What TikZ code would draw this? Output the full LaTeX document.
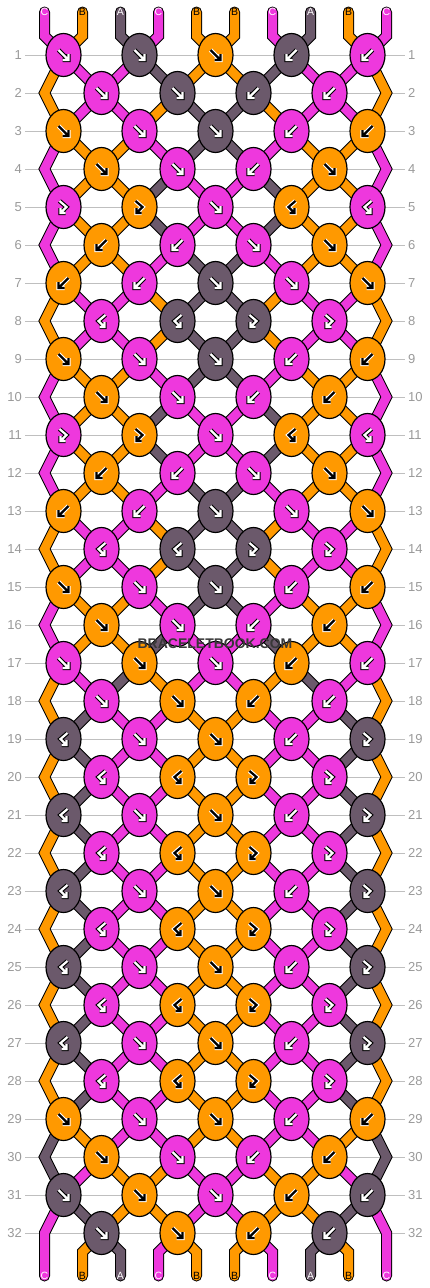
\documentclass[tikz,border=0pt]{standalone}
\usepackage{fontspec}
\setmainfont{Liberation Sans}
\usetikzlibrary{shapes.geometric}

\definecolor{threadA}{RGB}{107,89,107}
\definecolor{threadB}{RGB}{255,153,0}
\definecolor{threadC}{RGB}{238,56,221}
\colorlet{inkA}{white}\colorlet{inkB}{black}\colorlet{inkC}{white}
\colorlet{haloA}{black}\colorlet{haloB}{white}\colorlet{haloC}{black}

\pgfdeclarelayer{grid}
\pgfdeclarelayer{strands}
\pgfsetlayers{grid,strands,main}

\tikzset{
  knot/.style={ellipse, draw=black, line width=1.2pt, minimum width=35pt, minimum height=43pt, inner sep=0pt},
  thread/.style={draw=black, line width=1pt, double=#1, double distance=9pt, line join=miter},
  glyph/.style={draw=ink#1, line width=2.2pt, line join=miter, preaction={draw=halo#1, line width=4.4pt}},
  rowline/.style={draw=black!25, line width=1pt},
  rownum/.style={text=black!40, font=\fontsize{13}{13}\selectfont, inner sep=3pt},
  endlabel/.style={font=\fontsize{10.5}{10.5}\selectfont, inner sep=0pt},
}

% knot arrows, drawn round the knot centre
\newcommand{\glyphfw}[1]{\draw[glyph=#1] (-5,-5) -- (5,5) (5,-1) -- (5,5) -- (-1,5);}
\newcommand{\glyphbw}[1]{\draw[glyph=#1] (5,-5) -- (-5,5) (-5,-1) -- (-5,5) -- (1,5);}
\newcommand{\glyphfb}[1]{\draw[glyph=#1] (-4,-6) -- (3,0) -- (-3,6) (-3,1) -- (-3,6) -- (2,6);}
\newcommand{\glyphbf}[1]{\draw[glyph=#1] (4,-6) -- (-3,0) -- (3,6) (3,1) -- (3,6) -- (-2,6);}

\begin{document}
\begin{tikzpicture}[x=1pt, y=-1pt]
	\useasboundingbox (0,0) rectangle (430,1288);
	
	%%%%% rows %%%%%
	\foreach \r in {1,...,32} {
		\node[rownum, anchor=east] (numL\r) at (25,{55+38*(\r-1)}) {\r};
		\node[rownum, anchor=west] (numR\r) at (405,{55+38*(\r-1)}) {\r};
		\begin{pgfonlayer}{grid}
			\draw[rowline] (numL\r) -- (numR\r);
		\end{pgfonlayer}
	}
	
	%%%%% thread ends and bends %%%%%
	\foreach \p in {1,...,10} {
		\coordinate (top\p) at ({44.5+38*(\p-1)},12);
		\coordinate (topbend\p) at ({44.5+38*(\p-1)},36);
		\coordinate (botbend\p) at ({44.5+38*(\p-1)},1252);
		\coordinate (bot\p) at ({44.5+38*(\p-1)},1276);
	}
	\foreach \r in {2,4,...,32} {
		\coordinate (side\r-1) at (44.5,{55+38*(\r-1)});
		\coordinate (side\r-10) at (386.5,{55+38*(\r-1)});
	}
	
	%%%%% knots %%%%%
	\foreach \r/\row in {
		1/{C/fw,A/fw,B/fw,A/bw,C/bw}, 2/{C/fw,A/fw,A/bw,C/bw},
		3/{B/fw,C/fw,A/fw,C/bw,B/bw}, 4/{B/fw,C/fw,C/bw,B/fw},
		5/{C/fb,B/fb,C/fw,B/bf,C/bf}, 6/{B/bw,C/bw,C/fw,B/fw},
		7/{B/bw,C/bw,A/fw,C/fw,B/fw}, 8/{C/bf,A/bf,A/fb,C/fb},
		9/{B/fw,C/fw,A/fw,C/bw,B/bw}, 10/{B/fw,C/fw,C/bw,B/bw},
		11/{C/fb,B/fb,C/fw,B/bf,C/bf}, 12/{B/bw,C/bw,C/fw,B/fw},
		13/{B/bw,C/bw,A/fw,C/fw,B/fw}, 14/{C/bf,A/bf,A/fb,C/fb},
		15/{B/fw,C/fw,A/fw,C/bw,B/bw}, 16/{B/fw,C/fw,C/bw,B/bw},
		17/{C/fw,B/fw,C/fw,B/bw,C/bw}, 18/{C/fw,B/fw,B/bw,C/bw},
		19/{A/bf,C/fw,B/fw,C/bw,A/fb}, 20/{C/bf,B/bf,B/fb,C/fb},
		21/{A/bf,C/fw,B/fw,C/bw,A/fb}, 22/{C/bf,B/bf,B/fb,C/fb},
		23/{A/bf,C/fw,B/fw,C/bw,A/fb}, 24/{C/bf,B/bf,B/fb,C/fb},
		25/{A/bf,C/fw,B/fw,C/bw,A/fb}, 26/{C/bf,B/bf,B/fb,C/fb},
		27/{A/bf,C/fw,B/fw,C/bw,A/fb}, 28/{C/bf,B/bf,B/fb,C/fb},
		29/{B/fw,C/fw,B/fw,C/bw,B/bw}, 30/{B/fw,C/fw,C/bw,B/bw},
		31/{A/fw,B/fw,C/fw,B/bw,A/bw}, 32/{A/fw,B/fw,B/bw,A/bw}} {
		\pgfmathsetmacro\xo{isodd(\r) ? 63.5 : 101.5}
		\foreach \col/\typ [count=\c] in \row {
			\node[knot, fill=thread\col] (k\r-\c) at ({\xo+76*(\c-1)},{55+38*(\r-1)}) {};
			\begin{scope}[shift={(k\r-\c.center)}]
				\csname glyph\typ\endcsname{\col}
			\end{scope}
		}
	}
	
	%%%%% threads, one state per row %%%%%
	\begin{pgfonlayer}{strands}
	\foreach \r/\state in {
		0/{C,B,A,C,B,B,C,A,B,C}, 1/{B,C,C,A,B,B,A,C,C,B},
		2/{B,C,C,B,A,A,B,C,C,B}, 3/{C,B,B,C,A,A,C,B,B,C},
		4/{C,B,B,A,C,C,A,B,B,C}, 5/{C,B,B,A,C,C,A,B,B,C},
		6/{C,B,B,C,A,A,C,B,B,C}, 7/{B,C,C,B,A,A,B,C,C,B},
		8/{B,C,C,B,A,A,B,C,C,B}, 9/{C,B,B,C,A,A,C,B,B,C},
		10/{C,B,B,A,C,C,A,B,B,C}, 11/{C,B,B,A,C,C,A,B,B,C},
		12/{C,B,B,C,A,A,C,B,B,C}, 13/{B,C,C,B,A,A,B,C,C,B},
		14/{B,C,C,B,A,A,B,C,C,B}, 15/{C,B,B,C,A,A,C,B,B,C},
		16/{C,B,B,A,C,C,A,B,B,C}, 17/{B,C,A,B,C,C,B,A,C,B},
		18/{B,A,C,C,B,B,C,C,A,B}, 19/{B,A,C,C,B,B,C,C,A,B},
		20/{B,A,C,C,B,B,C,C,A,B}, 21/{B,A,C,C,B,B,C,C,A,B},
		22/{B,A,C,C,B,B,C,C,A,B}, 23/{B,A,C,C,B,B,C,C,A,B},
		24/{B,A,C,C,B,B,C,C,A,B}, 25/{B,A,C,C,B,B,C,C,A,B},
		26/{B,A,C,C,B,B,C,C,A,B}, 27/{B,A,C,C,B,B,C,C,A,B},
		28/{B,A,C,C,B,B,C,C,A,B}, 29/{A,B,C,C,B,B,C,C,B,A},
		30/{A,C,B,B,C,C,B,B,C,A}, 31/{C,A,B,B,C,C,B,B,A,C},
		32/{C,B,A,C,B,B,C,A,B,C}} {
		\foreach \col [count=\p] in \state {
			\pgfmathtruncatemacro\kodd{(\p+1)/2}
			\pgfmathtruncatemacro\keven{\p/2}
			\pgfmathtruncatemacro\rnext{\r+1}
			\pgfmathtruncatemacro\rskip{\r+2}
			\pgfmathtruncatemacro\isedge{(\p==1)||(\p==10)}
			\ifnum\r=0
				\draw[thread=thread\col, line cap=round] (top\p) -- (topbend\p) -- (k1-\kodd.center);
			\else
				\ifnum\r=32
					\ifnum\isedge=0
						\draw[thread=thread\col, line cap=round] (k32-\keven.center) -- (botbend\p) -- (bot\p);
					\fi
				\else
					\ifodd\r
						\ifnum\isedge=1
							\ifnum\r=31
								\draw[thread=thread\col, line cap=round] (k31-\kodd.center) -- (side32-\p) -- (bot\p);
							\else
								\draw[thread=thread\col] (k\r-\kodd.center) -- (side\rnext-\p) -- (k\rskip-\kodd.center);
							\fi
						\else
							\draw[thread=thread\col] (k\r-\kodd.center) -- (k\rnext-\keven.center);
						\fi
					\else
						\ifnum\isedge=0
							\draw[thread=thread\col] (k\r-\keven.center) -- (k\rnext-\kodd.center);
						\fi
					\fi
				\fi
			\fi
		}
	}
	\end{pgfonlayer}
	
	%%%%% thread letters %%%%%
	\foreach \col [count=\p] in {C,B,A,C,B,B,C,A,B,C} {
		\node[endlabel, text=ink\col] (topname\p) at (top\p) {\col};
		\node[endlabel, text=ink\col] (botname\p) at (bot\p) {\col};
	}
	
	\node[font=\bfseries\fontsize{14}{14}\selectfont, text=black!78] (mark) at (215,644) {BRACELETBOOK.COM};
\end{tikzpicture}
\end{document}
